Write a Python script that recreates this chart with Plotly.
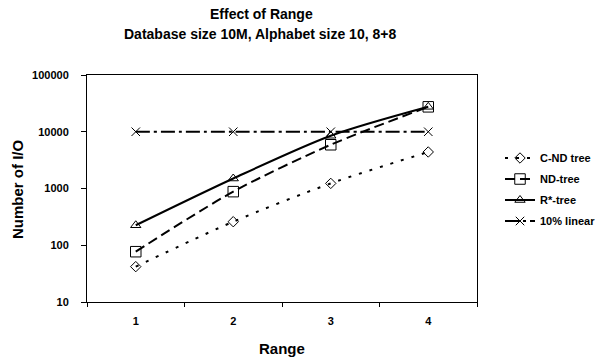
import plotly.graph_objects as go

# ---- data ----
ranges = ["1", "2", "3", "4"]
cnd_tree = [42, 260, 1230, 4400]
nd_tree = [77, 880, 5900, 27500]
rstar_tree = [225, 1500, 8500, 27500]
linear_10 = [10000, 10000, 10000, 10000]
y_tick_vals = [10, 100, 1000, 10000, 100000]
y_tick_text = ["10", "100", "1000", "10000", "100000"]

W, H = 605, 360
L, R, T, B = 87, 128, 75, 58
PW, PH = W - L - R, H - T - B

def px2paper_x(px):
    return (px - L) / PW

def px2paper_y(py):
    return (H - B - py) / PH

FONT = "Liberation Sans, Arial, sans-serif"

series = [
    ("C-ND tree", cnd_tree, "diamond-open", 8, "3px,8px", "legend"),
    ("ND-tree", nd_tree, "square-open", 10.5, "10px,5px", "legend2"),
    ("R*-tree", rstar_tree, "triangle-up-open", 9, "solid", "legend3"),
    ("10% linear", linear_10, "x-thin-open", 8.5, "14px,4px,3px,4px", "legend4"),
]

fig = go.Figure()
for name, vals, sym, size, dash, leg in series:
    fig.add_trace(go.Scatter(
        x=ranges, y=vals, name=name, mode="lines+markers",
        line=dict(color="black", width=2, dash=dash, shape="spline", smoothing=0.8),
        marker=dict(symbol=sym, size=size, color="black",
                    line=dict(color="black", width=1)),
        legend=leg,
    ))

legend_y = [158, 179, 200, 221]
legend_layout = {}
for i, (name, *_rest) in enumerate(series):
    key = "legend" if i == 0 else f"legend{i+1}"
    legend_layout[key] = dict(
        x=px2paper_x(500), y=px2paper_y(legend_y[i]),
        xanchor="left", yanchor="middle",
        font=dict(family=FONT, size=11, color="black", weight="bold"),
        bgcolor="rgba(0,0,0,0)", borderwidth=0,
    )

fig.update_layout(
    width=W, height=H,
    margin=dict(l=L, r=R, t=T, b=B, autoexpand=False),
    paper_bgcolor="white", plot_bgcolor="white",
    font=dict(family=FONT, color="black"),
    showlegend=True,
    **legend_layout,
)

fig.update_xaxes(
    type="category", range=[-0.5, 3.5],
    tickson="boundaries", ticks="outside", ticklen=4, tickcolor="black",
    ticklabelstandoff=9,
    showline=True, linecolor="black", linewidth=1, mirror=True,
    showgrid=False, zeroline=False,
    tickfont=dict(family=FONT, size=11, color="black", weight="bold"),
)
fig.update_yaxes(
    type="log", range=[1, 5],
    tickvals=y_tick_vals, ticktext=y_tick_text,
    ticks="outside", ticklen=5, tickcolor="black", ticklabelstandoff=10,
    showline=True, linecolor="black", linewidth=1, mirror=True,
    showgrid=False, zeroline=False,
    tickfont=dict(family=FONT, size=11, color="black", weight="bold"),
)

annots = [
    ("Effect of Range", 261, 14, 14, 0),
    ("Database size 10M, Alphabet size 10, 8+8", 260, 34, 14, 0),
    ("Range", 282, 348, 15, 0),
    ("Number of I/O", 17, 189, 15, -90),
]
for text, x, y, size, ang in annots:
    fig.add_annotation(
        text=text, xref="paper", yref="paper",
        x=px2paper_x(x), y=px2paper_y(y), xanchor="center", yanchor="middle",
        showarrow=False, textangle=ang,
        font=dict(family=FONT, size=size, color="black", weight="bold"),
    )

fig.write_html(
    "out.html",
    config={"displayModeBar": False},
    post_script="document.body.style.margin='0';document.body.style.padding='0';",
)
